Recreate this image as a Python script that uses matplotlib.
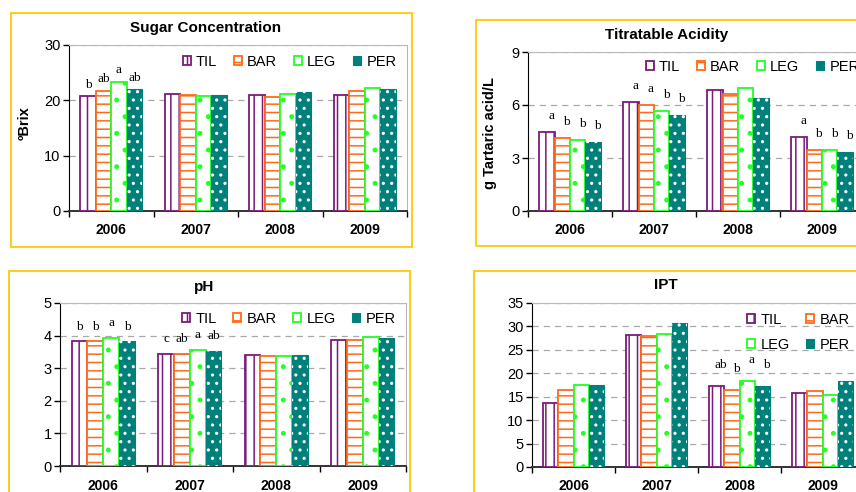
import numpy as np
import matplotlib.pyplot as plt
from matplotlib.patches import Patch, Rectangle

plt.rcParams['font.family'] = ['Liberation Sans', 'DejaVu Sans']
plt.rcParams['hatch.linewidth'] = 1.1

W, H = 856, 492

years = ['2006', '2007', '2008', '2009']
treatments = ['TIL', 'BAR', 'LEG', 'PER']

# values per treatment (TIL, BAR, LEG, PER), one entry per year
sugar = [[20.75, 21.2, 21.0, 21.0],
         [21.7, 21.05, 20.6, 21.7],
         [23.35, 20.75, 21.2, 22.2],
         [22.0, 21.0, 21.5, 22.0]]
acidity = [[4.49, 6.17, 6.84, 4.17],
           [4.15, 6.02, 6.61, 3.47],
           [4.0, 5.66, 6.97, 3.47],
           [3.92, 5.45, 6.42, 3.35]]
ph = [[3.82, 3.44, 3.41, 3.88],
      [3.82, 3.44, 3.37, 3.88],
      [3.93, 3.57, 3.37, 3.97],
      [3.82, 3.54, 3.42, 3.93]]
ipt = [[13.6, 28.1, 17.3, 15.7],
       [16.5, 27.95, 16.5, 16.2],
       [17.5, 28.45, 18.4, 15.4],
       [17.4, 30.65, 17.3, 18.45]]

# significance letters per year (TIL, BAR, LEG, PER)
sugar_letters = [['b', 'ab', 'a', 'ab'], [], [], []]
acidity_letters = [['a', 'b', 'b', 'b'], ['a', 'a', 'b', 'b'], [], ['a', 'b', 'b', 'b']]
ph_letters = [['b', 'b', 'a', 'b'], ['c', 'ab', 'a', 'ab'], [], []]
ipt_letters = [[], [], ['ab', 'b', 'a', 'b'], []]

purple = '#7B1A7B'
orange = '#FF6A1A'
green = '#22FF22'
teal = '#00807A'

styles = [dict(facecolor='white', edgecolor=purple, hatch='||', linewidth=1.3),
          dict(facecolor='white', edgecolor=orange, hatch='--', linewidth=1.3),
          dict(facecolor='white', edgecolor=green, hatch='.', linewidth=1.3),
          dict(facecolor=teal, edgecolor=teal, linewidth=0.8)]

fig = plt.figure(figsize=(W / 100, H / 100), dpi=100)


def px(x0, y0, x1, y1):
    # pixel box -> figure fraction rect
    return [x0 / W, 1 - y1 / H, (x1 - x0) / W, (y1 - y0) / H]


def panel(rect, values, letters, ymax, ystep, pad, leg_anchor, ncol, dx=0.0):
    ax = fig.add_axes(rect)
    x = np.arange(len(years))
    w = 0.183
    for i in range(len(treatments)):
        xs = x + (i - 1.5) * w
        ax.bar(xs, values[i], w, zorder=3, **styles[i])
        if i == 3:
            # white dots on the teal bars
            ax.bar(xs, values[i], w, facecolor='none', edgecolor='white',
                   hatch='..', linewidth=0, zorder=4)
    for j, lets in enumerate(letters):
        for i, l in enumerate(lets):
            ax.text(j + (i - 1.5) * w + dx, values[i][j] + pad, l, ha='center',
                    va='center', family=['Liberation Serif'], fontsize=9.5)
    ax.set_xlim(-0.5, len(years) - 0.5)
    ax.set_ylim(0, ymax)
    ax.set_yticks(np.arange(0, ymax + 0.01, ystep))
    ax.set_xticks(np.arange(-0.5, len(years)), [])
    ax.set_xticks(x, years, minor=True)
    ax.tick_params(axis='x', which='major', length=4, direction='out', width=1)
    ax.tick_params(axis='x', which='minor', length=0, pad=9, labelsize=10)
    for t in ax.get_xticklabels(minor=True):
        t.set_fontweight('bold')
    ax.tick_params(axis='y', length=4, width=1, labelsize=10.5, pad=2)
    ax.grid(axis='y', color='#A8A8A8', linestyle=(0, (5, 4)), linewidth=0.9, zorder=0)
    ax.spines['top'].set_color('#B8B8B8')
    ax.spines['right'].set_color('#B8B8B8')
    ax.spines['left'].set_color('black')
    ax.spines['bottom'].set_color('#333333')
    ax.spines['bottom'].set_linewidth(1.4)
    # 2-column legend fills by column, so reorder to get TIL BAR / LEG PER rows
    order = [0, 1, 2, 3] if ncol == 4 else [0, 2, 1, 3]
    handles = [Patch(**styles[k]) for k in order]
    ax.legend(handles, [treatments[k] for k in order], ncol=ncol, loc='upper left',
              bbox_to_anchor=leg_anchor, frameon=False, handlelength=0.55,
              handleheight=0.55, handletextpad=0.35, columnspacing=1.15,
              labelspacing=0.75, fontsize=10.5, borderpad=0, borderaxespad=0)
    return ax


# yellow chart-area frames
for (x0, y0, x1, y1) in [(11, 13, 412, 247), (476, 20, 900, 246),
                         (9, 271, 410, 520), (474, 271, 900, 520)]:
    fig.patches.append(Rectangle((x0 / W, 1 - y1 / H), (x1 - x0) / W, (y1 - y0) / H,
                                 transform=fig.transFigure, fill=False,
                                 edgecolor='#FFCC22', linewidth=1.5))

panel(px(69, 45, 407, 211), sugar, sugar_letters, 30, 10, 2.1, (0.337, 0.94), 4)
panel(px(528, 52, 864, 211), acidity, acidity_letters, 9, 3, 0.9, (0.351, 0.95), 4, dx=0.05)
panel(px(60, 303, 406, 466), ph, ph_letters, 5, 1, 0.45, (0.353, 0.945), 4)
panel(px(532, 303, 864, 467), ipt, ipt_letters, 35, 5, 4.5, (0.648, 0.94), 2, dx=0.05)

fig.text(206 / W, 1 - 28 / H, 'Sugar Concentration', ha='center', va='center',
         fontsize=11, fontweight='bold')
fig.text(667 / W, 1 - 35 / H, 'Titratable Acidity', ha='center', va='center',
         fontsize=11, fontweight='bold')
fig.text(204 / W, 1 - 287 / H, 'pH', ha='center', va='center',
         fontsize=11, fontweight='bold')
fig.text(666 / W, 1 - 285 / H, 'IPT', ha='center', va='center',
         fontsize=11, fontweight='bold')
fig.text(25 / W, 1 - 123 / H, 'ºBrix', ha='center', va='center', rotation=90,
         fontsize=10.5, fontweight='bold')
fig.text(490 / W, 1 - 133 / H, 'g Tartaric acid/L', ha='center', va='center',
         rotation=90, fontsize=10.5, fontweight='bold')

plt.savefig('out.png', dpi=100)
